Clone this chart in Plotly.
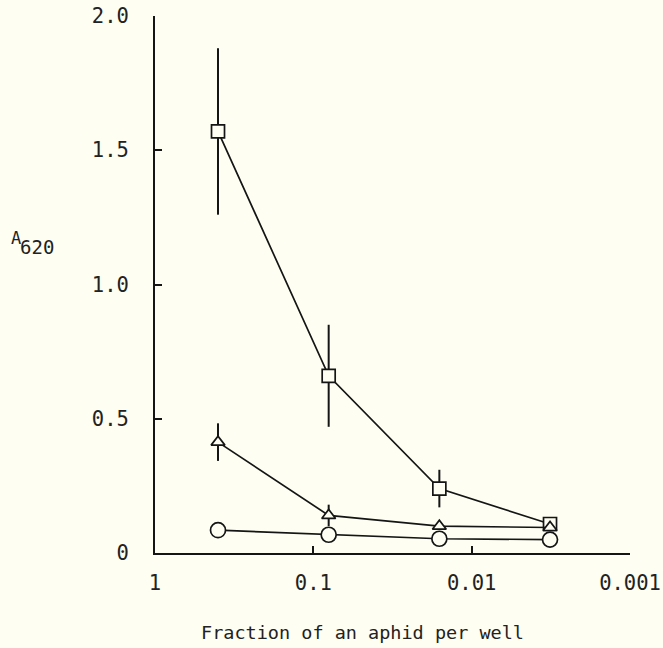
import plotly.graph_objects as go

# Fraction of an aphid per well (dilution series)
fraction = [0.4, 0.08, 0.016, 0.0032]

# A620 readings per extract, with error bar half-widths
square_vals = [1.57, 0.66, 0.24, 0.108]
square_err = [0.31, 0.19, 0.07, 0.0]
triangle_vals = [0.413, 0.14, 0.10, 0.095]
triangle_err = [0.07, 0.04, 0.0, 0.0]
circle_vals = [0.085, 0.068, 0.053, 0.05]
circle_err = [0.0, 0.0, 0.0, 0.0]

x_tickvals = [1, 0.1, 0.01, 0.001]
x_ticktext = ["1", "0.1", "0.01", "0.001"]
y_tickvals = [0, 0.5, 1.0, 1.5, 2.0]
y_ticktext = ["0", "0.5", "1.0", "1.5", "2.0"]

BG = "#fefef2"
INK = "#151515"
TXT = "#222"
FONT = "DejaVu Sans Mono"

fig = go.Figure()


def add_series(yvals, errs, symbol, size):
    fig.add_trace(go.Scatter(
        x=fraction, y=yvals, mode="lines+markers",
        line=dict(color=INK, width=1.7),
        marker=dict(symbol=symbol, size=size, color=BG,
                    line=dict(color=INK, width=1.7)),
        error_y=dict(type="data", array=errs, visible=True,
                     color=INK, thickness=2, width=0),
        showlegend=False, cliponaxis=False,
    ))


add_series(square_vals, square_err, "square", 13)
add_series(triangle_vals, triangle_err, "triangle-up", 12)
add_series(circle_vals, circle_err, "circle", 15)

L, R, T, B = 155, 33, 16, 95
W, H = 663, 648
pw, ph = W - L - R, H - T - B


def px_to_paper(px, py):
    return (px - L) / pw, (H - B - py) / ph


fig.update_layout(
    width=W, height=H,
    paper_bgcolor=BG, plot_bgcolor=BG,
    margin=dict(l=L, r=R, t=T, b=B),
    font=dict(family=FONT, size=20, color=TXT),
    xaxis=dict(
        type="log", range=[0, -3], automargin=False,
        tickvals=x_tickvals, ticktext=x_ticktext,
        ticks="inside", ticklen=7, tickwidth=2, tickcolor=INK,
        showline=True, linecolor=INK, linewidth=2,
        showgrid=False, zeroline=False,
        ticklabelstandoff=10,
        tickfont=dict(family=FONT, size=20.5, color=TXT),
    ),
    yaxis=dict(
        range=[0, 2.0], automargin=False,
        tickvals=y_tickvals, ticktext=y_ticktext,
        ticks="inside", ticklen=7, tickwidth=2, tickcolor=INK,
        showline=True, linecolor=INK, linewidth=2,
        showgrid=False, zeroline=False,
        ticklabelstandoff=20,
        tickfont=dict(family=FONT, size=20.5, color=TXT),
    ),
)

ax, ay = px_to_paper(16, 238)
nx, ny = px_to_paper(37, 247)
tx, ty = px_to_paper(362, 632)
fig.add_annotation(text="A", xref="paper", yref="paper", x=ax, y=ay,
                   xanchor="center", yanchor="middle", showarrow=False,
                   font=dict(family=FONT, size=17, color=TXT))
fig.add_annotation(text="620", xref="paper", yref="paper", x=nx, y=ny,
                   xanchor="center", yanchor="middle", showarrow=False,
                   font=dict(family=FONT, size=19, color=TXT))
fig.add_annotation(text="Fraction of an aphid per well", xref="paper",
                   yref="paper", x=tx, y=ty, xanchor="center",
                   yanchor="middle", showarrow=False,
                   font=dict(family=FONT, size=18.5, color=TXT))

fig.write_html("out.html")
